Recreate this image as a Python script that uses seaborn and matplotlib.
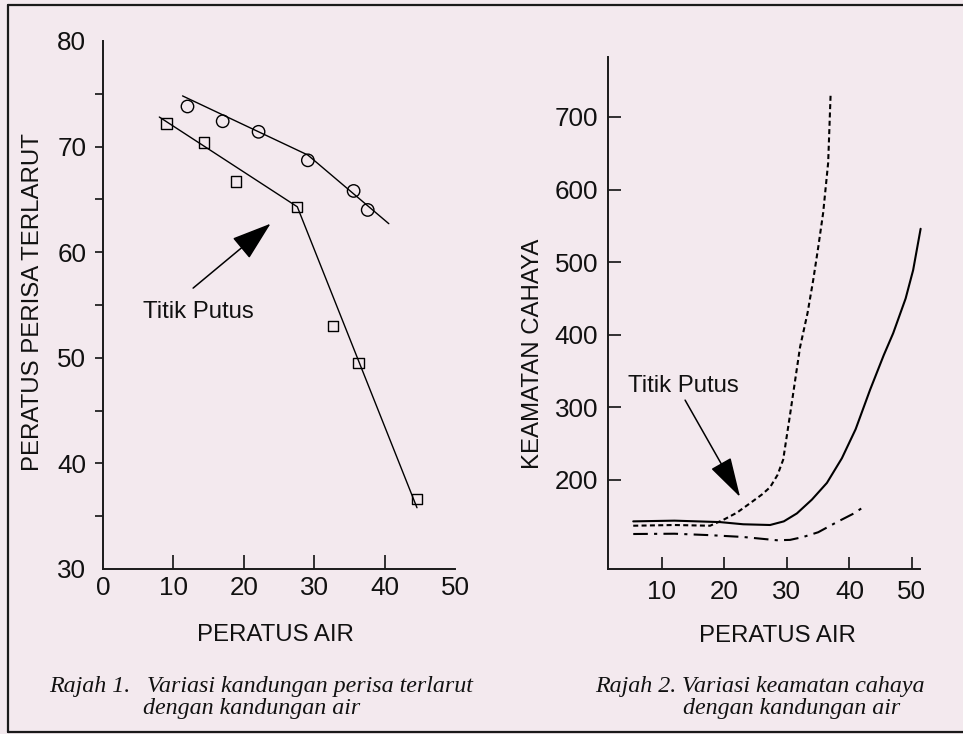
# two panels from the textbook figure: perisa terlarut and keamatan cahaya vs kandungan air

import numpy as np
import pandas as pd
import matplotlib.pyplot as plt
from matplotlib.lines import Line2D
import seaborn as sns

# Rajah 1 data
circle_x = [12.0, 17.0, 22.1, 29.1, 35.6, 37.6]
circle_y = [73.8, 72.4, 71.4, 68.7, 65.8, 64.0]
circle_fit_x = [11.3, 29.1, 40.6]
circle_fit_y = [74.8, 69.2, 62.7]

square_x = [9.0, 14.3, 18.9, 27.6, 32.7, 36.3, 44.6]
square_y = [72.2, 70.4, 66.7, 64.3, 53.0, 49.5, 36.6]
square_fit_x = [8.0, 27.6, 44.6]
square_fit_y = [72.8, 64.3, 35.8]

# Rajah 2 data
solid_x = [5.4, 12.0, 19.3, 23.0, 27.3, 29.5, 31.6, 34.0, 36.4, 38.8, 41.0, 43.3, 45.5, 47.0, 49.0, 50.2, 51.4]
solid_y = [143, 144, 142, 139, 138, 143, 154, 173, 196, 230, 270, 324, 372, 402, 450, 489, 546]

dashed_x = [5.4, 12.0, 17.7, 19.8, 22.0, 24.1, 26.0, 27.3, 28.5, 29.4, 30.5, 32.1, 33.3, 34.2, 35.0, 35.8, 36.6, 37.0]
dashed_y = [137, 138, 137, 145, 155, 168, 180, 190, 207, 228, 290, 383, 430, 475, 520, 568, 637, 733]

dashdot_x = [5.4, 12.0, 17.7, 23.0, 26.0, 28.4, 30.5, 32.6, 35.0, 38.0, 40.5, 42.5]
dashdot_y = [125.6, 126, 124, 121.5, 119, 117, 117.5, 121.5, 128, 142, 153, 164]

bg = "#f3e9ee"
ink = "#111111"
fs = 17.3      # axis titles and notes
tfs = 18.7     # tick numbers
sns.set_theme(style="ticks", rc={"axes.facecolor": bg, "figure.facecolor": bg,
                                 "axes.edgecolor": "#1a1a1a", "axes.linewidth": 1.4,
                                 "text.color": ink, "axes.labelcolor": ink,
                                 "xtick.color": ink, "ytick.color": ink})
plt.rcParams["font.family"] = ["Liberation Sans", "DejaVu Sans"]

fig = plt.figure(figsize=(9.63, 7.34), dpi=100)
W, H = 963.0, 734.0

ax1 = fig.add_axes([103 / W, 1 - 569 / H, 352 / W, 528 / H])
ax2 = fig.add_axes([608 / W, 1 - 569 / H, 312 / W, 512 / H])

# ---- panel 1
sns.lineplot(x=circle_fit_x, y=circle_fit_y, ax=ax1, color="black", lw=1.0, estimator=None, sort=False)
sns.lineplot(x=square_fit_x, y=square_fit_y, ax=ax1, color="black", lw=1.0, estimator=None, sort=False)
sns.scatterplot(x=circle_x, y=circle_y, ax=ax1, marker="o", s=80, facecolor="none",
                edgecolor="black", linewidth=1.0, zorder=3)
sns.scatterplot(x=square_x, y=square_y, ax=ax1, marker="s", s=55, facecolor="none",
                edgecolor="black", linewidth=1.0, zorder=3)

ax1.set_xlim(0, 50)
ax1.set_ylim(30, 80)
ax1.set_xticks(np.arange(0, 51, 10))
ax1.set_yticks(np.arange(30, 81, 10))
ax1.set_yticks(np.arange(35, 80, 10), minor=True)
ax1.tick_params(axis="x", direction="in", length=10, width=1.2, pad=5, labelsize=tfs)
ax1.tick_params(axis="y", which="both", direction="out", length=6, width=1.2, pad=6, labelsize=tfs)
for t in [ax1.xaxis.get_major_ticks()[0], ax1.xaxis.get_major_ticks()[-1],
          ax1.yaxis.get_major_ticks()[0], ax1.yaxis.get_major_ticks()[-1]]:
    t.tick1line.set_visible(False)

ax1.set_xlabel("PERATUS AIR", fontsize=fs)
ax1.xaxis.set_label_coords(0.491, -0.104)
ax1.set_ylabel("PERATUS PERISA TERLARUT", fontsize=fs, va="center")
ax1.yaxis.set_label_coords(-0.198, 0.505)

ax1.annotate("", xy=(23.8, 62.7), xytext=(12.8, 56.6),
             arrowprops=dict(arrowstyle="-|>,head_length=2.1,head_width=0.7", lw=1.1,
                             color="black", shrinkA=0, shrinkB=0))
ax1.text(5.7, 53.8, "Titik Putus", fontsize=fs, ha="left", va="baseline")

# ---- panel 2
sns.lineplot(x=solid_x, y=solid_y, ax=ax2, color="black", lw=1.5, estimator=None, sort=False,
             clip_on=False)
sns.lineplot(x=dashed_x, y=dashed_y, ax=ax2, color="black", lw=1.5, estimator=None, sort=False,
             linestyle=(0, (2.4, 1.6)))
sns.lineplot(x=dashdot_x, y=dashdot_y, ax=ax2, color="black", lw=1.5, estimator=None, sort=False,
             linestyle=(0, (7, 3, 1.5, 3)))

ax2.set_xlim(1.36, 51.3)
ax2.set_ylim(77.4, 782.6)
ax2.set_xticks(np.arange(10, 51, 10))
ax2.set_yticks(np.arange(200, 701, 100))
ax2.tick_params(axis="x", direction="in", length=9, width=1.2, pad=8, labelsize=tfs)
ax2.tick_params(axis="y", direction="in", length=9, width=1.2, pad=7, labelsize=tfs)

ax2.set_xlabel("PERATUS AIR", fontsize=fs)
ax2.xaxis.set_label_coords(0.542, -0.109)
ax2.set_ylabel("KEAMATAN CAHAYA", fontsize=fs, va="center")
ax2.yaxis.set_label_coords(-0.240, 0.42)

ax2.annotate("", xy=(22.5, 176.6), xytext=(13.7, 310),
             arrowprops=dict(arrowstyle="-|>,head_length=2.1,head_width=0.6", lw=1.1,
                             color="black", shrinkA=0, shrinkB=0))
ax2.text(4.56, 321, "Titik Putus", fontsize=fs, ha="left", va="baseline")

for ax in (ax1, ax2):
    sns.despine(ax=ax)
    ax.grid(False)

# ---- captions
cap = dict(family=["Liberation Serif", "DejaVu Serif"], style="italic", fontsize=17.3,
           va="baseline", ha="left", color=ink)
fig.text(49 / W, 1 - 692 / H, "Rajah 1.", **cap)
fig.text(147 / W, 1 - 692 / H, "Variasi kandungan perisa terlarut", **cap)
fig.text(143 / W, 1 - 714 / H, "dengan kandungan air", **cap)
fig.text(595 / W, 1 - 692 / H, "Rajah 2.", **cap)
fig.text(682 / W, 1 - 692 / H, "Variasi keamatan cahaya", **cap)
fig.text(683 / W, 1 - 714 / H, "dengan kandungan air", **cap)

# ---- page frame
frame = dict(color="#1a1a1a", lw=1.6, transform=fig.transFigure)
fig.add_artist(Line2D([8 / W, 1], [1 - 4.5 / H, 1 - 4.5 / H], **frame))
fig.add_artist(Line2D([8 / W, 8 / W], [1 - 4.5 / H, 1 - 732 / H], **frame))
fig.add_artist(Line2D([8 / W, 1], [1 - 732 / H, 1 - 732 / H], **frame))

fig.savefig("out.png", dpi=100, facecolor=bg)
plt.close()
